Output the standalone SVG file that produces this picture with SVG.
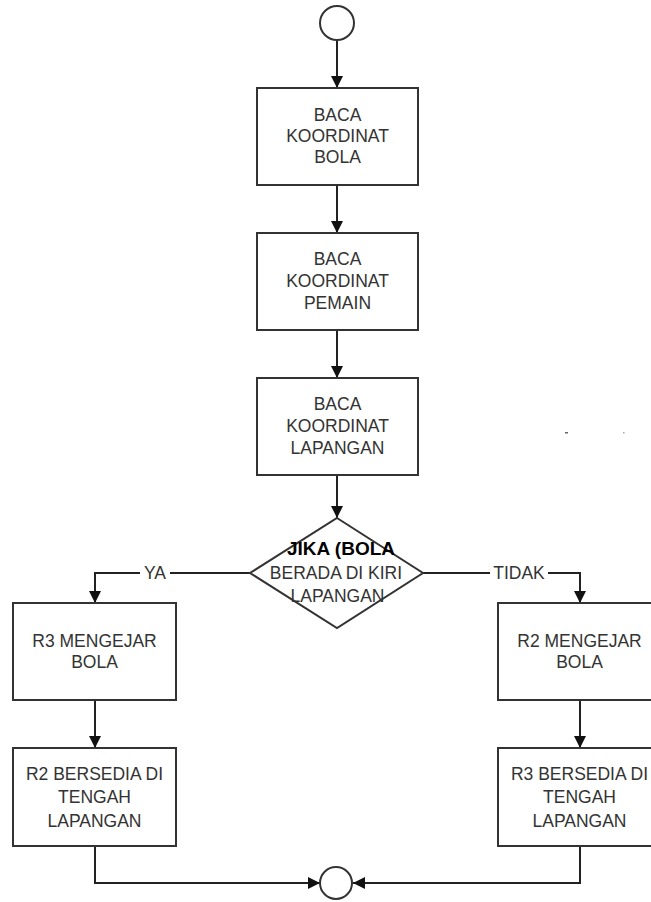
<svg xmlns="http://www.w3.org/2000/svg" width="651" height="902" viewBox="0 0 651 902">
<defs>
<marker id="arr" markerUnits="userSpaceOnUse" markerWidth="12" markerHeight="12" viewBox="0 0 12 12" refX="12" refY="6" orient="auto">
<path d="M0,0 L12,6 L0,12 z" fill="#111"/>
</marker>
</defs>
<style>
.box{fill:#fff;stroke:#333;stroke-width:2}
.t{font-family:"Liberation Sans",Arial,sans-serif;font-size:17.5px;fill:#333;text-anchor:middle}
.tb{font-family:"Liberation Sans",Arial,sans-serif;font-size:19px;font-weight:bold;fill:#000;text-anchor:middle}
.c{fill:none;stroke:#222;stroke-width:2}
.ca{fill:none;stroke:#222;stroke-width:2;marker-end:url(#arr)}
</style>
<rect width="651" height="902" fill="#fff"/>
<g id="connectors">
<path class="ca" d="M337,40 V88"/>
<path class="ca" d="M337,185 V233"/>
<path class="ca" d="M337,330 V378"/>
<path class="ca" d="M337,475 V518"/>
<path class="c" d="M250,573 H170"/>
<path class="ca" d="M140,573 H95 V603"/>
<path class="c" d="M423,573 H490"/>
<path class="ca" d="M548,573 H580 V603"/>
<path class="ca" d="M95,700 V748"/>
<path class="ca" d="M580,700 V748"/>
<path class="ca" d="M95,846 V883 H320"/>
<path class="ca" d="M580,846 V883 H353"/>
<text class="t" x="155" y="579">YA</text>
<text class="t" x="519" y="579">TIDAK</text>
</g>
<g id="start"><circle cx="337" cy="23" r="17" class="box"/></g>
<g id="baca-bola">
<rect class="box" x="257" y="88" width="161" height="97"/>
<text class="t" x="337.5" y="121">BACA</text>
<text class="t" x="337.5" y="142">KOORDINAT</text>
<text class="t" x="337.5" y="163">BOLA</text>
</g>
<g id="baca-pemain">
<rect class="box" x="257" y="233" width="161" height="97"/>
<text class="t" x="337.5" y="265">BACA</text>
<text class="t" x="337.5" y="287">KOORDINAT</text>
<text class="t" x="337.5" y="309">PEMAIN</text>
</g>
<g id="baca-lapangan">
<rect class="box" x="257" y="378" width="161" height="97"/>
<text class="t" x="337.5" y="410">BACA</text>
<text class="t" x="337.5" y="432">KOORDINAT</text>
<text class="t" x="337.5" y="454">LAPANGAN</text>
</g>
<g id="decision">
<polygon class="box" points="337,518 423,573 337,628 250,573"/>
<text class="tb" x="341" y="555">JIKA (BOLA</text>
<text class="t" x="336" y="579">BERADA DI KIRI</text>
<text class="t" x="337.5" y="602">LAPANGAN</text>
</g>
<g id="r3-mengejar">
<rect class="box" x="13" y="603" width="163" height="97"/>
<text class="t" x="94.5" y="647">R3 MENGEJAR</text>
<text class="t" x="94.5" y="668">BOLA</text>
</g>
<g id="r2-bersedia">
<rect class="box" x="13" y="748" width="163" height="98"/>
<text class="t" x="94.5" y="780">R2 BERSEDIA DI</text>
<text class="t" x="94.5" y="803">TENGAH</text>
<text class="t" x="94.5" y="827">LAPANGAN</text>
</g>
<g id="r2-mengejar">
<rect class="box" x="498" y="603" width="163" height="97"/>
<text class="t" x="579.5" y="647">R2 MENGEJAR</text>
<text class="t" x="579.5" y="668">BOLA</text>
</g>
<g id="r3-bersedia">
<rect class="box" x="498" y="748" width="163" height="98"/>
<text class="t" x="579.5" y="780">R3 BERSEDIA DI</text>
<text class="t" x="579.5" y="803">TENGAH</text>
<text class="t" x="579.5" y="827">LAPANGAN</text>
</g>
<g id="end"><circle cx="336" cy="883" r="16" class="box"/></g>
<rect x="565" y="432" width="3" height="1.5" fill="#666"/>
<rect x="623" y="432" width="1.5" height="1.5" fill="#aaa"/>
</svg>
